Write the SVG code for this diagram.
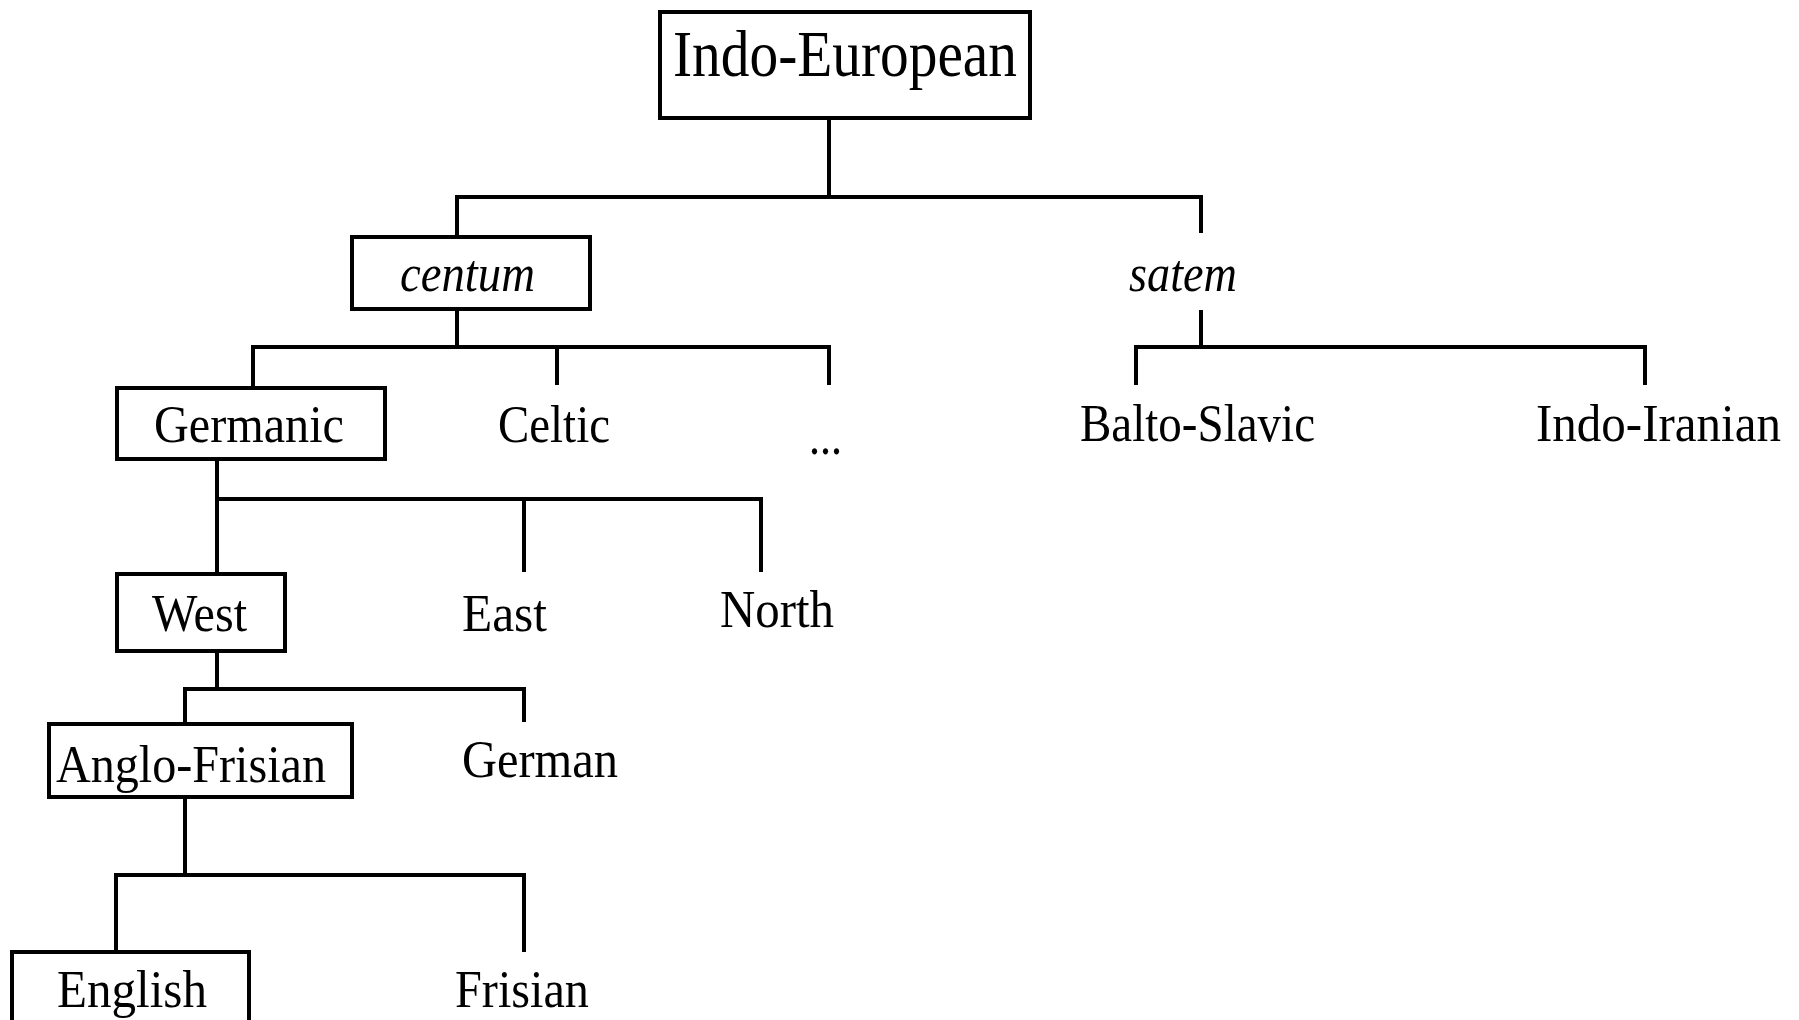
<svg xmlns="http://www.w3.org/2000/svg" width="1799" height="1020" viewBox="0 0 1799 1020">
<style>
.box{fill:#fff;stroke:#000;stroke-width:4}
.ln{fill:none;stroke:#000;stroke-width:4;stroke-linecap:butt}
text{font-family:"Liberation Serif","Times New Roman",serif;font-size:53px;fill:#000}
.big{font-size:65px}
.it{font-style:italic}
</style>
<rect width="1799" height="1020" fill="#fff"/>
<g id="connectors">
<path class="ln" d="M829 118V197M455 197H1203M457 197V236M1201 197V233"/>
<path class="ln" d="M457 309V347M251 347H831M253 347V387M557 347V385M829 347V385"/>
<path class="ln" d="M1201 310V347M1134 347H1647M1136 347V385M1645 347V385"/>
<path class="ln" d="M217 459V499M215 499H763M217 499V574M524 499V572M761 499V572"/>
<path class="ln" d="M217 651V689M183 689H526M185 689V724M524 689V722"/>
<path class="ln" d="M185 797V875M114 875H526M116 875V952M524 875V952"/>
</g>
<g id="indo-european"><rect class="box" x="660" y="12" width="370" height="106"/><text class="big" x="673" y="76" textLength="344" lengthAdjust="spacingAndGlyphs">Indo-European</text></g>
<g id="centum"><rect class="box" x="352" y="237" width="238" height="72"/><text class="it" x="400" y="291" textLength="135" lengthAdjust="spacingAndGlyphs">centum</text></g>
<g id="satem"><text class="it" x="1129" y="291" textLength="108" lengthAdjust="spacingAndGlyphs">satem</text></g>
<g id="germanic"><rect class="box" x="117" y="388" width="268" height="71"/><text x="154" y="442" textLength="190" lengthAdjust="spacingAndGlyphs">Germanic</text></g>
<g id="celtic"><text x="498" y="442" textLength="112" lengthAdjust="spacingAndGlyphs">Celtic</text></g>
<g id="ellipsis"><text x="809" y="454" textLength="33" lengthAdjust="spacingAndGlyphs">...</text></g>
<g id="balto-slavic"><text x="1080" y="441" textLength="235" lengthAdjust="spacingAndGlyphs">Balto-Slavic</text></g>
<g id="indo-iranian"><text x="1536" y="441" textLength="245" lengthAdjust="spacingAndGlyphs">Indo-Iranian</text></g>
<g id="west"><rect class="box" x="117" y="574" width="168" height="77"/><text x="152" y="631" textLength="95" lengthAdjust="spacingAndGlyphs">West</text></g>
<g id="east"><text x="462" y="631" textLength="85" lengthAdjust="spacingAndGlyphs">East</text></g>
<g id="north"><text x="720" y="627" textLength="114" lengthAdjust="spacingAndGlyphs">North</text></g>
<g id="anglo-frisian"><rect class="box" x="49" y="724" width="303" height="73"/><text x="56" y="782" textLength="270" lengthAdjust="spacingAndGlyphs">Anglo-Frisian</text></g>
<g id="german"><text x="462" y="777" textLength="156" lengthAdjust="spacingAndGlyphs">German</text></g>
<g id="english"><rect class="box" x="12" y="952" width="237" height="90"/><text x="57" y="1007" textLength="150" lengthAdjust="spacingAndGlyphs">English</text></g>
<g id="frisian"><text x="455" y="1007" textLength="134" lengthAdjust="spacingAndGlyphs">Frisian</text></g>
</svg>
